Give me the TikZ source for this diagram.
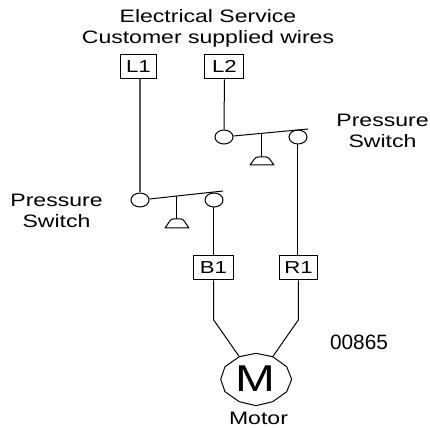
\documentclass[tikz,border=0pt]{standalone}
\usepackage{fontspec}
\setmainfont{Liberation Sans}
\newfontfamily\widefont[FakeStretch=1.28]{Liberation Sans}
\usetikzlibrary{shapes.geometric}
\tikzset{
  px/.style={x=0.75pt,y=-0.75pt},
  wire/.style={draw=black,line width=0.75pt,line join=round},
  term/.style={draw=black,line width=0.75pt,rectangle,inner sep=0pt,font=\widefont\fontsize{13pt}{13pt}\selectfont},
  contact/.style={draw=black,line width=0.75pt,ellipse,inner sep=0pt,minimum width=13.5pt,minimum height=10.5pt},
  lbl/.style={inner sep=0pt,align=center,font=\widefont\fontsize{13.5pt}{15.75pt}\selectfont}
}
\begin{document}
\begin{tikzpicture}[px]
\useasboundingbox (0,0) rectangle (430,428);
\node[lbl] (title) at (208,28.5) {Electrical Service\\Customer supplied wires};
\node[term,minimum width=27.4pt,minimum height=18.5pt] (L1) at (138.5,66.5) {L1};
\node[term,minimum width=29.25pt,minimum height=18.5pt] (L2) at (224.5,66.5) {L2};
\node[term,minimum width=30pt,minimum height=18pt] (B1) at (213.5,268) {B1};
\node[term,minimum width=29pt,minimum height=18pt] (R1) at (298.5,268) {R1};
% upper switch
\node[contact] (c1) at (224,137) {};
\node[contact] (c2) at (298,137) {};
\coordinate (lever2) at (308,129);
\coordinate (stem2top) at (262,133);
\coordinate (stem2bot) at (262,157);
\draw[wire] (c1.east) ++(0,-1) -- (lever2);
\draw[wire] (stem2top) -- (stem2bot);
\draw[wire] (250,165) .. controls (254,160) and (255,157) .. (258,157) -- (266,157) .. controls (269,157) and (270,160) .. (274,165) -- cycle;
% lower switch
\node[contact] (c3) at (140,200) {};
\node[contact] (c4) at (214,200) {};
\coordinate (lever1) at (223,191);
\coordinate (stem1top) at (177,196);
\coordinate (stem1bot) at (177,219);
\draw[wire] (c3.east) ++(0,-1) -- (lever1);
\draw[wire] (stem1top) -- (stem1bot);
\draw[wire] (165,228) .. controls (169,223) and (170,219) .. (173,219) -- (181,219) .. controls (184,219) and (185,223) .. (189,228) -- cycle;
% wires
\draw[wire,draw=black!65,line width=1pt] (L1.south -| c3) -- (c3.north);
\draw[wire] (L2) -- (c1);
\draw[wire] (c4) -- (B1.north -| c4);
\draw[wire] (c2) -- (R1.north -| c2);
% motor
\node[inner sep=0pt,anchor=base,font=\widefont\fontsize{28pt}{30pt}\selectfont] (M) at (255,392) {M};
\draw[wire] (239.3,356.7) -- (256,353.3) -- (272.7,356.7) -- (286.7,366.7) -- (291.7,379.3) -- (286.7,391.7) -- (272.7,401.7) -- (256,405.7) -- (239.3,401.7) -- (225,391.7) -- (220.7,379.3) -- (225,366.7) -- cycle;
\coordinate (mL) at (239.3,356.7);
\coordinate (mR) at (272.7,356.7);
\coordinate (bendL) at (213.7,320);
\coordinate (bendR) at (298.3,320);
\draw[wire] (B1.south -| bendL) -- (bendL) -- (mL);
\draw[wire] (R1.south -| bendR) -- (bendR) -- (mR);
\node[lbl,anchor=base] (motorlbl) at (258.5,425) {Motor};
\node[lbl] (ps1) at (382.5,131) {Pressure\\Switch};
\node[lbl] (ps2) at (56.5,211) {Pressure\\Switch};
\node[inner sep=0pt,anchor=base,font=\fontsize{15.6pt}{16pt}\selectfont] (code) at (359,350) {00865};
\end{tikzpicture}
\end{document}
